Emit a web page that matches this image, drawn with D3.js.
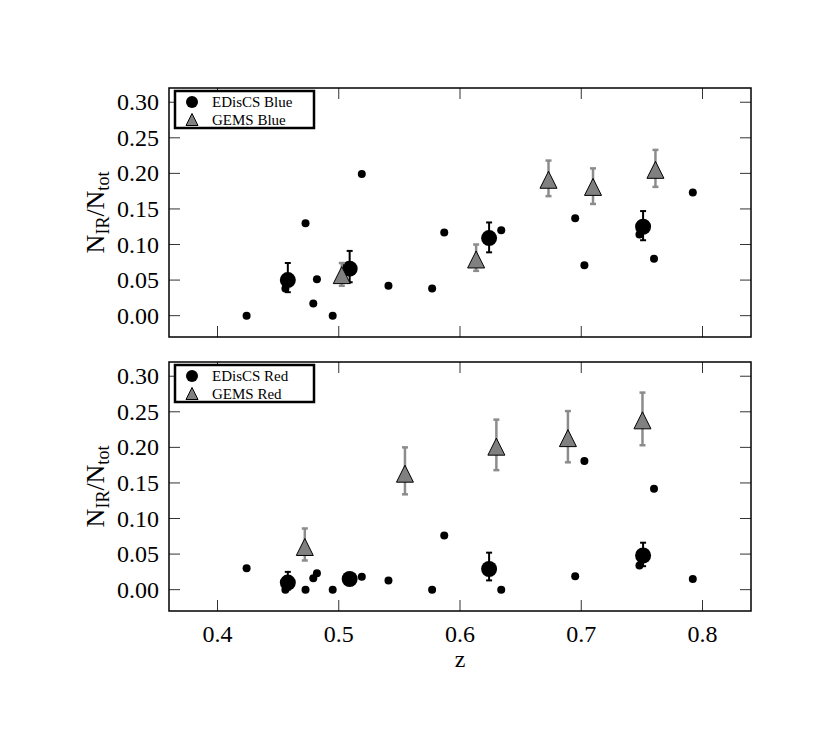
<!DOCTYPE html>
<html><head><meta charset="utf-8">
<script src="https://cdn.jsdelivr.net/npm/d3@7"></script>
<style>body{margin:0;background:#fff}svg{display:block}</style>
</head><body>
<script>
// ---- data ----
const clusterZ = [0.424, 0.456, 0.4726, 0.479, 0.482, 0.495, 0.519, 0.541, 0.577, 0.587, 0.634, 0.695, 0.7026, 0.748, 0.760, 0.792];
const clusterBlue = [0.000, 0.038, 0.130, 0.017, 0.051, 0.000, 0.199, 0.042, 0.038, 0.117, 0.120, 0.137, 0.071, 0.114, 0.080, 0.173];
const clusterRed = [0.030, 0.000, 0.000, 0.016, 0.023, 0.000, 0.018, 0.013, 0.000, 0.076, 0.000, 0.019, 0.181, 0.034, 0.142, 0.015];

const edZ = [0.458, 0.509, 0.624, 0.751];
const edBlue = [0.050, 0.066, 0.109, 0.125];
const edBlueLo = [0.033, 0.047, 0.089, 0.106];
const edBlueHi = [0.074, 0.091, 0.131, 0.147];
const edRed = [0.010, 0.015, 0.029, 0.048];
const edRedLo = [0.000, 0.010, 0.013, 0.033];
const edRedHi = [0.025, 0.022, 0.052, 0.066];

const gemsBlueZ = [0.5025, 0.6133, 0.673, 0.7097, 0.7612];
const gemsBlue = [0.057, 0.079, 0.191, 0.181, 0.205];
const gemsBlueLo = [0.042, 0.063, 0.168, 0.157, 0.181];
const gemsBlueHi = [0.074, 0.100, 0.218, 0.207, 0.233];
const gemsRedZ = [0.472, 0.5546, 0.630, 0.689, 0.7505];
const gemsRed = [0.060, 0.163, 0.201, 0.213, 0.238];
const gemsRedLo = [0.041, 0.134, 0.168, 0.179, 0.203];
const gemsRedHi = [0.086, 0.200, 0.239, 0.251, 0.277];

const xTicks = [0.4, 0.5, 0.6, 0.7, 0.8];
const yTicks = [0.00, 0.05, 0.10, 0.15, 0.20, 0.25, 0.30];
const legendBlue = ["EDisCS Blue", "GEMS Blue"];
const legendRed = ["EDisCS Red", "GEMS Red"];

// ---- layout ----
const W = 830, H = 747;
const FONT = "'Liberation Serif', 'DejaVu Serif', serif";
const svg = d3.select("body").append("svg").attr("width", W).attr("height", H);
const left = 169, right = 751;
const x = d3.scaleLinear().domain([0.36, 0.84]).range([left, right]);

const panels = [
  {top: 88, bottom: 337, small: clusterBlue, ed: edBlue, edLo: edBlueLo, edHi: edBlueHi,
   gz: gemsBlueZ, g: gemsBlue, gLo: gemsBlueLo, gHi: gemsBlueHi, legend: legendBlue, xlabels: false},
  {top: 362, bottom: 611, small: clusterRed, ed: edRed, edLo: edRedLo, edHi: edRedHi,
   gz: gemsRedZ, g: gemsRed, gLo: gemsRedLo, gHi: gemsRedHi, legend: legendRed, xlabels: true}
];

const tri = (cx, cy, s) => `M${cx},${cy - s}L${cx - s},${cy + s}L${cx + s},${cy + s}Z`;
const TICK = 11;
const gemsBar = "#8c8c8c", gemsFill = "#808080";

panels.forEach(p => {
  const y = d3.scaleLinear().domain([-0.03, 0.32]).range([p.bottom, p.top]);
  const g = svg.append("g");

  // ticks (inward, all four sides)
  const tg = g.append("g").attr("stroke", "#333").attr("stroke-width", 1);
  xTicks.forEach(t => {
    tg.append("line").attr("x1", x(t)).attr("x2", x(t)).attr("y1", p.bottom).attr("y2", p.bottom - TICK);
    tg.append("line").attr("x1", x(t)).attr("x2", x(t)).attr("y1", p.top).attr("y2", p.top + TICK);
  });
  yTicks.forEach(t => {
    tg.append("line").attr("x1", left).attr("x2", left + TICK).attr("y1", y(t)).attr("y2", y(t));
    tg.append("line").attr("x1", right).attr("x2", right - TICK).attr("y1", y(t)).attr("y2", y(t));
  });

  // y tick labels
  g.append("g").selectAll("text").data(yTicks).join("text")
    .attr("x", left - 10).attr("y", d => y(d) + 8)
    .attr("text-anchor", "end").attr("font-family", FONT).attr("font-size", 24)
    .text(d => d3.format(".2f")(d));

  if (p.xlabels) {
    g.append("g").selectAll("text").data(xTicks).join("text")
      .attr("x", d => x(d)).attr("y", p.bottom + 31)
      .attr("text-anchor", "middle").attr("font-family", FONT).attr("font-size", 24)
      .text(d => d3.format(".1f")(d));
    g.append("text").attr("x", (left + right) / 2).attr("y", p.bottom + 56)
      .attr("text-anchor", "middle").attr("font-family", FONT).attr("font-size", 24).text("z");
  }

  // y label
  const cy = (p.top + p.bottom) / 2;
  const yl = g.append("text").attr("transform", `translate(104,${cy}) rotate(-90)`)
    .attr("text-anchor", "middle").attr("font-family", FONT).attr("font-size", 26);
  yl.append("tspan").text("N");
  yl.append("tspan").attr("font-size", 18).attr("dy", 5).text("IR");
  yl.append("tspan").attr("dy", -5).text("/N");
  yl.append("tspan").attr("font-size", 18).attr("dy", 5).text("tot");

  // small cluster dots
  g.append("g").selectAll("circle").data(clusterZ).join("circle")
    .attr("cx", d => x(d)).attr("cy", (d, i) => y(p.small[i])).attr("r", 4).attr("fill", "#000");

  // EDisCS binned: error bars + big circles
  const eb = g.append("g").attr("stroke", "#000").attr("stroke-width", 2);
  edZ.forEach((z, i) => {
    eb.append("line").attr("x1", x(z)).attr("x2", x(z)).attr("y1", y(p.edLo[i])).attr("y2", y(p.edHi[i]));
    [p.edLo[i], p.edHi[i]].forEach(v => eb.append("line").attr("x1", x(z) - 3).attr("x2", x(z) + 3).attr("y1", y(v)).attr("y2", y(v)));
  });
  g.append("g").selectAll("circle").data(edZ).join("circle")
    .attr("cx", d => x(d)).attr("cy", (d, i) => y(p.ed[i])).attr("r", 8).attr("fill", "#000");

  // GEMS: error bars + triangles
  const gb = g.append("g").attr("stroke", gemsBar).attr("stroke-width", 2.5);
  p.gz.forEach((z, i) => {
    gb.append("line").attr("x1", x(z)).attr("x2", x(z)).attr("y1", y(p.gLo[i])).attr("y2", y(p.gHi[i]));
    [p.gLo[i], p.gHi[i]].forEach(v => gb.append("line").attr("x1", x(z) - 3).attr("x2", x(z) + 3).attr("y1", y(v)).attr("y2", y(v)));
  });
  g.append("g").selectAll("path").data(p.gz).join("path")
    .attr("d", (d, i) => tri(x(d), y(p.g[i]), 8.5))
    .attr("fill", gemsFill).attr("stroke", "#000").attr("stroke-width", 1);

  // frame
  g.append("rect").attr("x", left).attr("y", p.top).attr("width", right - left).attr("height", p.bottom - p.top)
    .attr("fill", "none").attr("stroke", "#000").attr("stroke-width", 1.5);

  // legend
  const lg = g.append("g").attr("transform", `translate(175,${p.top + 3})`);
  lg.append("rect").attr("width", 139).attr("height", 37).attr("fill", "#fff").attr("stroke", "#000").attr("stroke-width", 2.5);
  lg.append("circle").attr("cx", 17).attr("cy", 11).attr("r", 6).attr("fill", "#000");
  lg.append("path").attr("d", tri(17, 28.5, 6)).attr("fill", gemsFill).attr("stroke", "#000").attr("stroke-width", 1);
  p.legend.forEach((t, i) => lg.append("text").attr("x", 37).attr("y", 16 + i * 17.5)
    .attr("font-family", FONT).attr("font-size", 15).text(t));
});
</script>
</body></html>
